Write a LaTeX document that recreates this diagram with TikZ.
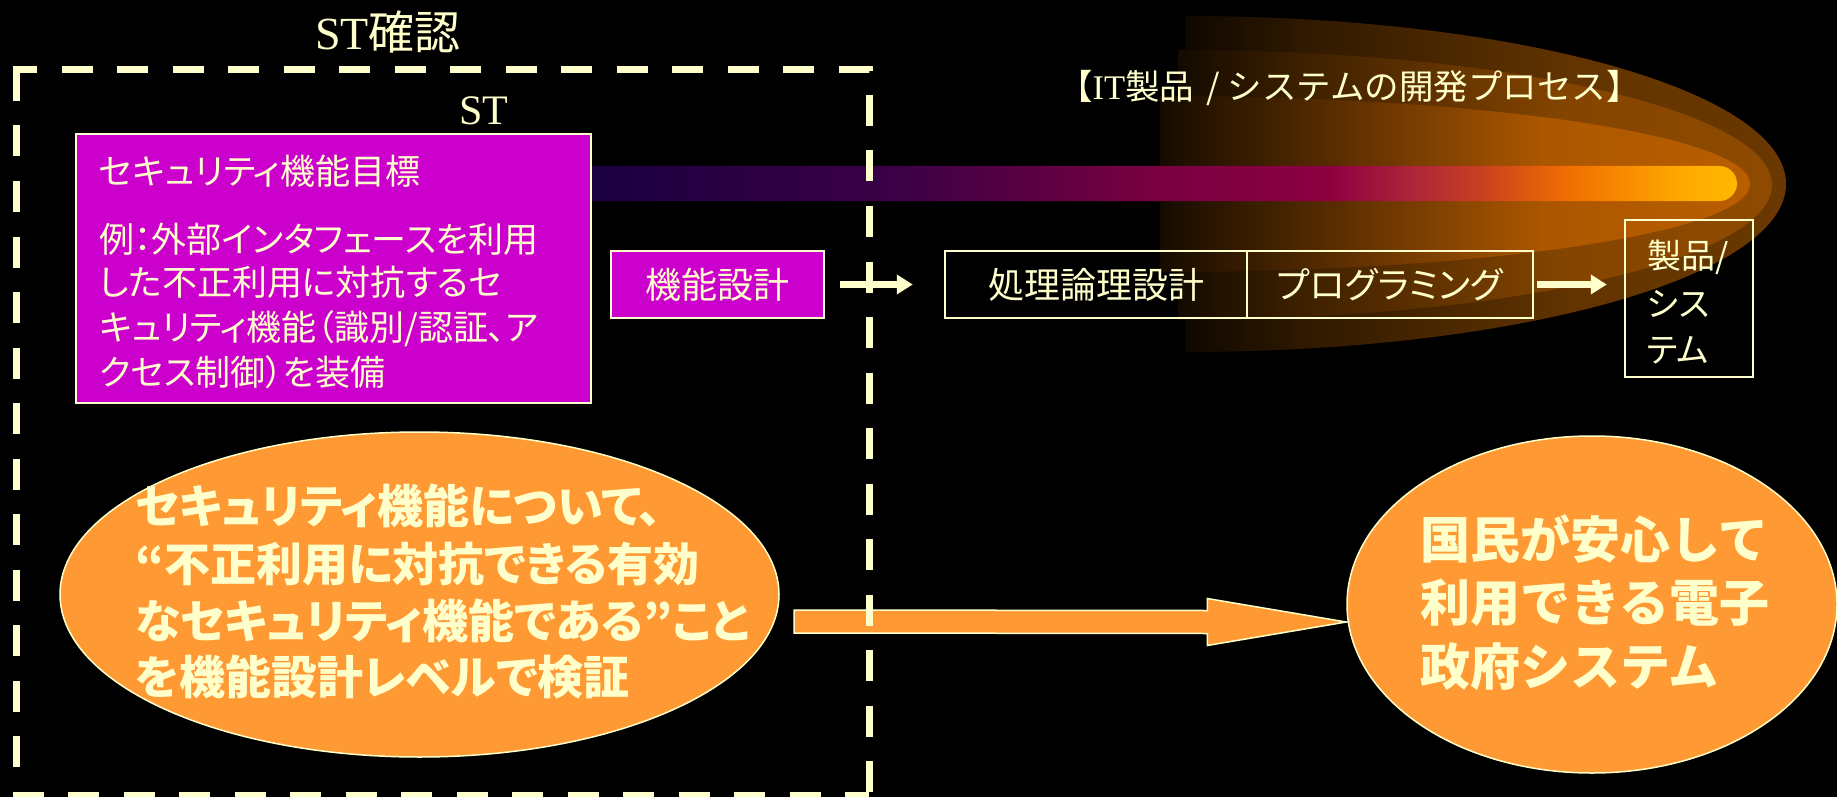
\documentclass[tikz,border=0pt]{standalone}
\usepackage{fontspec}
\usetikzlibrary{arrows.meta,calc,shapes.geometric}
\setmainfont{Liberation Serif}
\newfontfamily\jp{Noto Sans CJK JP}
\newfontfamily\jpp[RawFeature=+palt]{Noto Sans CJK JP}
\newfontfamily\tms{Liberation Serif}
\newcommand\myfs[1]{\fontsize{#1}{#1}\selectfont}
\definecolor{cream}{HTML}{FFFFCC}
\definecolor{mag}{HTML}{CC00CC}
\definecolor{orng}{HTML}{FF9933}
\definecolor{glowA}{HTML}{6A3800}
\definecolor{glowB}{HTML}{8E4A00}
\definecolor{glowC}{HTML}{BA5E00}
\colorlet{gA0}{glowA!14!black}\colorlet{gA1}{glowA!45!black}\colorlet{gA2}{glowA!93!black}
\colorlet{gB0}{glowB!14!black}\colorlet{gB1}{glowB!42!black}\colorlet{gB2}{glowB!93!black}
\colorlet{gC0}{glowC!12!black}\colorlet{gC1}{glowC!36!black}\colorlet{gC2}{glowC!92!black}
\definecolor{b0}{HTML}{1A0040}
\definecolor{b1}{HTML}{3C0045}
\definecolor{b2}{HTML}{780040}
\definecolor{b3}{HTML}{8C0040}
\definecolor{b4}{HTML}{B02838}
\definecolor{b5}{HTML}{C84020}
\definecolor{b6}{HTML}{F07000}
\definecolor{b7}{HTML}{FFA800}
\definecolor{b8}{HTML}{FFB800}
\pgfdeclarehorizontalshading{glowshA}{100bp}{color(0bp)=(gA0); color(25bp)=(gA0); color(35bp)=(gA1); color(57.5bp)=(gA2); color(75bp)=(glowA); color(100bp)=(glowA)}
\pgfdeclarehorizontalshading{glowshB}{100bp}{color(0bp)=(gB0); color(25bp)=(gB0); color(35bp)=(gB1); color(57.5bp)=(gB2); color(75bp)=(glowB); color(100bp)=(glowB)}
\pgfdeclarehorizontalshading{glowshC}{100bp}{color(0bp)=(gC0); color(25bp)=(gC0); color(35bp)=(gC1); color(57.5bp)=(gC2); color(75bp)=(glowC); color(100bp)=(glowC)}
\pgfdeclarehorizontalshading{barsh}{100bp}{color(0bp)=(b0); color(26.3bp)=(b0); color(39.4bp)=(b1); color(50.1bp)=(b2); color(57.7bp)=(b3); color(61.5bp)=(b4); color(64.1bp)=(b5); color(67.9bp)=(b6); color(72.6bp)=(b7); color(75bp)=(b8); color(100bp)=(b8)}
\begin{document}
\begin{tikzpicture}[x=1pt,y=-1pt,
  cbox/.style={draw=cream, line width=2.5pt, inner sep=0pt},
  mbox/.style={cbox, fill=mag},
  jt/.style={inner sep=0pt, anchor=base west, text=cream},
  carrow/.style={draw=cream, line width=6.5pt, -{Triangle[length=16pt,width=19pt]}},
  oell/.style={ellipse, fill=orng, draw=cream, line width=1.5pt, inner sep=0pt},
  dashedge/.style={draw=cream, line width=7pt, dash pattern=on 31pt off 24.5pt},
  bigarrow/.style={fill=orng, draw=cream, line width=1.5pt}]
\fill[black] (0,0) rectangle (1837,797);
\useasboundingbox (0,0) rectangle (1837,797);
% glow
\begin{scope}
  \clip (1185,184) ellipse [x radius=601, y radius=168];
  \shade[shading=glowshA] (1185,16) rectangle (1786,352);
\end{scope}
\begin{scope}
  \clip (1178,185) ellipse [x radius=594, y radius=135];
  \shade[shading=glowshB] (1178,50) rectangle (1772,320);
\end{scope}
\begin{scope}
  \clip (1160,184) ellipse [x radius=590, y radius=88];
  \shade[shading=glowshC] (1160,96) rectangle (1750,272);
\end{scope}
% bar
\shade[shading=barsh, rounded corners=17.5pt] (560,166) rectangle (1737,201);
% ellipses
\node[oell, minimum width=719pt, minimum height=325pt] (le) at (419.5,594.5) {};
\node[oell, minimum width=490pt, minimum height=337pt] (re) at (1592,604.5) {};
% big arrow
\coordinate (at) at (794,621.5);
\coordinate (ah) at ($(re.west)+(0,17.5)$);
\draw[bigarrow] ($(at)+(0,-11.5)$) -- ($(ah)+(-139,-11.5)$) -- ($(ah)+(-139,-23.5)$) -- (ah)
  -- ($(ah)+(-139,23.5)$) -- ($(ah)+(-139,11.5)$) -- ($(at)+(0,11.5)$) -- cycle;
% dashed frame
\draw[dashedge, dash phase=6.5pt] (12.5,70) -- (869,70) -- (869,795);
\draw[dashedge] (16,70) -- (16,795) -- (869,795);
% boxes
\node[mbox, minimum width=515pt, minimum height=269pt] (goal) at (333.5,268.5) {};
\node[mbox, minimum width=213pt, minimum height=67pt, font=\jp\myfs{36}, text=cream] (fd) at (717.5,284.5) {機能設計};
\node[cbox, minimum width=302pt, minimum height=67pt, font=\jp\myfs{36}, text=cream] (pl) at (1096,284.5) {処理論理設計};
\node[cbox, minimum width=286pt, minimum height=67pt, font=\jpp\myfs{36}, text=cream] (pg) at (1390,284.5) {プログラミング};
\node[cbox, minimum width=128pt, minimum height=157pt] (prod) at (1689,298.5) {};
% arrows
\draw[carrow, shorten <=15pt, shorten >=31pt] (fd.east) -- (pl.west);
\draw[carrow, shorten <=3pt, shorten >=17pt] (pg.east) -- (prod.west |- pg.east);
% titles
\node[inner sep=0pt, anchor=base, text=cream, font=\myfs{46}] (title) at (388,50) {{\tms ST}{\jp 確認}};
\node[inner sep=0pt, anchor=base, text=cream, font=\tms\myfs{42}] (st) at (484,125) {ST};
\node[jt, font=\jp\myfs{34.5}] (hdr) at (1058,100) {【{\tms IT}製品\hspace{0.35em}/ システムの開発プロセス】};
% goal text
\node[jt, font=\jpp\myfs{35}] (g1) at (99,185) {セキュリティ機能目標};
\node[jt, font=\jpp\myfs{35}] (g2) at (99,252) {例：外部インタフェースを利用};
\node[jt, font=\jpp\myfs{35}] (g3) at (99,295) {した不正利用に対抗するセ};
\node[jt, font=\jpp\myfs{35}] (g4) at (99,340) {キュリティ機能（識別/認証、ア};
\node[jt, font=\jpp\myfs{35}] (g5) at (99,385) {クセス制御）を装備};
% product text
\node[jt, font=\jpp\myfs{34}] (p1) at (1647,268) {製品/};
\node[jt, font=\jpp\myfs{34}] (p2) at (1647,316) {シス};
\node[jt, font=\jpp\myfs{34}] (p3) at (1647,362) {テム};
% ellipse texts
\node[jt, font=\jpp\bfseries\myfs{46}] (l1) at (135,523) {セキュリティ機能について、};
\node[jt, font=\jpp\bfseries\myfs{46}] (l2) at (135,581) {“不正利用に対抗できる有効};
\node[jt, font=\jpp\bfseries\myfs{46}] (l3) at (135,638) {なセキュリティ機能である”こと};
\node[jt, font=\jpp\bfseries\myfs{46}] (l4) at (135,694) {を機能設計レベルで検証};
\node[jt, font=\jp\bfseries\myfs{50}] (r1) at (1420,558) {国民が安心して};
\node[jt, font=\jp\bfseries\myfs{50}] (r2) at (1420,621) {利用できる電子};
\node[jt, font=\jp\bfseries\myfs{50}] (r3) at (1420,685) {政府システム};
\end{tikzpicture}
\end{document}
